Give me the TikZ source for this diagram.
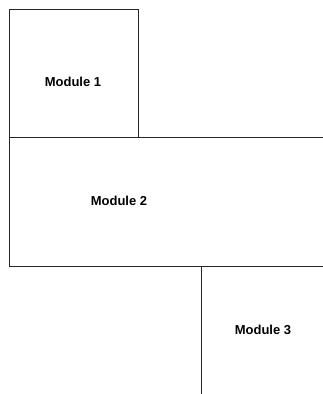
\documentclass[tikz,border=0pt]{standalone}
\usepackage{fontspec}
\setmainfont{Liberation Sans}
\begin{document}
\begin{tikzpicture}[x=1pt,y=-1pt,
  edge/.style={draw=black!85,line width=1pt},
  lbl/.style={font=\fontsize{13}{15}\selectfont\bfseries,inner sep=0pt,anchor=center}]
\useasboundingbox (0,0) rectangle (323,394);
\coordinate (m1tl) at (9,9);
\coordinate (m1tr) at (138,9);
\coordinate (m1br) at (138,137);
\coordinate (m2tl) at (9,137);
\coordinate (m2tr) at (323,137);
\coordinate (m2bl) at (9,266);
\coordinate (m2br) at (323,266);
\coordinate (m3tl) at (201,266);
\coordinate (m3bl) at (201,394);
\draw[edge] (m2tl) -- (m1tl) -- (m1tr) -- (m1br);
\draw[edge] (m2tl) -- (m2tr);
\draw[edge] (m2tl) -- (m2bl) -- (m2br);
\draw[edge] (m3tl) -- (m3bl);
\node[lbl] (t1) at (73,81.5) {Module 1};
\node[lbl] (t2) at (119,201) {Module 2};
\node[lbl] (t3) at (263,329.5) {Module 3};
\end{tikzpicture}
\end{document}
